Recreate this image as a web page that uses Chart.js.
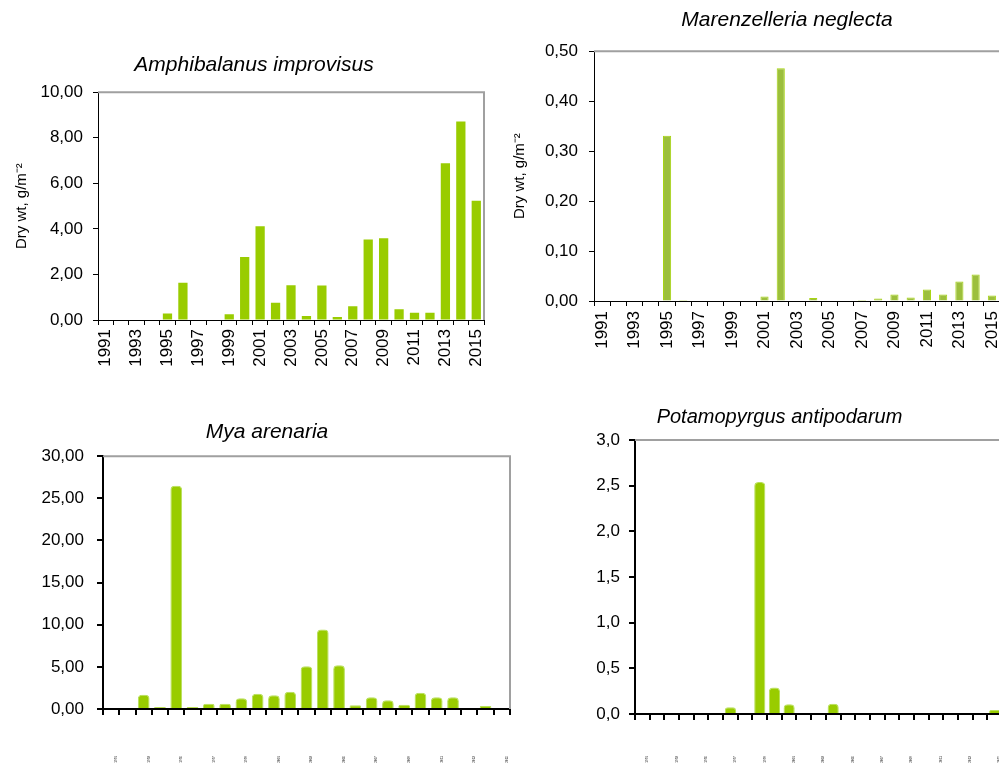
<!DOCTYPE html>
<html>
<head>
<meta charset="utf-8">
<script src="https://cdn.jsdelivr.net/npm/chart.js@4.4.1/dist/chart.umd.min.js"></script>
<style>
    html, body { margin: 0; padding: 0; background: #fff; overflow: hidden; width: 999px; height: 767px; }
    canvas { position: absolute; }
</style>
</head>
<body>
<canvas id="graficoAmphibalanus" width="508" height="350" style="left:0px; top:30px"></canvas>
<canvas id="graficoMarenzelleria" width="574" height="380" style="left:500px; top:0px"></canvas>
<canvas id="graficoMya" width="534" height="377" style="left:0px; top:390px"></canvas>
<canvas id="graficoPotamopyrgus" width="479" height="377" style="left:540px; top:390px"></canvas>
<script>
// anos (eixo x)
const anos = ['1991', '1992', '1993', '1994', '1995', '1996', '1997', '1998', '1999', '2000',
    '2001', '2002', '2003', '2004', '2005', '2006', '2007', '2008', '2009', '2010',
    '2011', '2012', '2013', '2014', '2015'];

// peso seco, g/m-2
const amphibalanus = [0, 0, 0, 0, 0.29, 1.64, 0, 0, 0.25, 2.77, 4.11, 0.76, 1.52, 0.18, 1.51, 0.13, 0.60, 3.53, 3.59, 0.47, 0.32, 0.32, 6.88, 8.71, 5.23];
const marenzelleria = [0, 0, 0, 0, 0.331, 0.002, 0, 0, 0, 0, 0.009, 0.466, 0, 0.006, 0, 0, 0.002, 0.005, 0.013, 0.007, 0.023, 0.013, 0.039, 0.053, 0.011];
const mya = [0, 0, 1.70, 0.24, 26.5, 0.24, 0.63, 0.63, 1.27, 1.82, 1.62, 2.06, 5.07, 9.42, 5.18, 0.44, 1.39, 1.03, 0.51, 1.94, 1.39, 1.39, 0, 0.36, 0];
const potamopyrgus = [0, 0, 0, 0, 0, 0, 0.073, 0, 2.54, 0.29, 0.106, 0, 0, 0.113, 0, 0, 0, 0, 0, 0, 0, 0, 0, 0, 0.044];

// escalas do eixo y: [max, passo, casas decimais]
const escalaAmphibalanus = [10, 2, 2];
const escalaMarenzelleria = [0.5, 0.1, 2];
const escalaMya = [30, 5, 2];
const escalaPotamopyrgus = [3, 0.5, 1];

const tituloY = 'Dry wt, g/m⁻²';

Chart.defaults.font.family = "'Liberation Sans', Arial, sans-serif";
Chart.defaults.color = '#000';

// linha cinza em cima e à direita da area do grafico
const moldura = {
    id: 'moldura',
    afterDraw(chart) {
        const a = chart.chartArea;
        const c = chart.ctx;
        c.save();
        c.strokeStyle = '#a0a0a0';
        c.lineWidth = 2;
        c.beginPath();
        c.moveTo(a.left, a.top);
        c.lineTo(a.right, a.top);
        c.lineTo(a.right, a.bottom);
        c.stroke();
        c.restore();
    }
};

function criarGrafico(id, cfg) {
    return new Chart(document.getElementById(id), {
        type: 'bar',
        data: {
            labels: anos,
            datasets: [{
                data: cfg.dados,
                backgroundColor: cfg.cor,
                borderColor: cfg.borda || cfg.cor,
                borderWidth: cfg.bordaLargura || 0,
                borderRadius: cfg.raio || 0,
                borderSkipped: 'bottom',
                barPercentage: cfg.barra,
                categoryPercentage: 1
            }]
        },
        options: {
            responsive: false,
            animation: false,
            events: [],
            layout: { padding: 0 },
            plugins: {
                legend: { display: false },
                tooltip: { enabled: false },
                title: {
                    display: true,
                    text: cfg.titulo,
                    color: '#000',
                    font: { size: cfg.tituloTam, style: 'italic', weight: 'normal' },
                    padding: { top: cfg.tituloTopo, bottom: cfg.tituloBaixo }
                }
            },
            scales: {
                x: {
                    grid: { display: true, drawOnChartArea: false, tickLength: cfg.tick, color: '#000', lineWidth: cfg.eixo, offset: true },
                    border: { display: true, color: '#000', width: cfg.eixo },
                    ticks: {
                        autoSkip: false, minRotation: 90, maxRotation: 90,
                        padding: cfg.xPad, labelOffset: cfg.xDesloc || 0,
                        color: '#000', font: { size: cfg.xFonte },
                        callback: (v, i) => i % 2 === 0 ? anos[i] : ''
                    },
                    afterFit: s => {
                        s.height = cfg.baixo;
                        // nao deixar o padding dos rotulos empurrar a area
                        s.paddingLeft = 0;
                        s.paddingRight = 0;
                    }
                },
                y: {
                    min: 0,
                    max: cfg.escala[0],
                    ticks: {
                        stepSize: cfg.escala[1], padding: cfg.yPad,
                        color: '#000', font: { size: 17 },
                        callback: v => v.toFixed(cfg.escala[2]).replace('.', ',')
                    },
                    grid: { display: true, drawOnChartArea: false, tickLength: cfg.tick, color: '#000', lineWidth: cfg.eixo },
                    border: { display: true, color: '#000', width: cfg.eixo },
                    title: {
                        display: !!cfg.yTitulo,
                        text: cfg.yTitulo || '',
                        color: '#000',
                        font: { size: 15 },
                        padding: { top: cfg.yTituloPad || 0, bottom: 0 }
                    },
                    afterFit: s => { s.width = cfg.esquerda; }
                },
                // so para reservar espaço à direita
                espaco: {
                    type: 'linear', position: 'right', display: true,
                    grid: { display: false }, ticks: { display: false }, border: { display: false },
                    afterFit: s => { s.width = cfg.direita; }
                }
            }
        },
        plugins: [moldura]
    });
}

criarGrafico('graficoAmphibalanus', {
    dados: amphibalanus, escala: escalaAmphibalanus, cor: '#99cc00', barra: 0.6,
    titulo: 'Amphibalanus improvisus', tituloTam: 21, tituloTopo: 23, tituloBaixo: 14,
    yTitulo: tituloY, yTituloPad: 13,
    esquerda: 98, direita: 24, baixo: 60,
    tick: 5, eixo: 1, xPad: 4, yPad: 10, xFonte: 17
});

criarGrafico('graficoMarenzelleria', {
    dados: marenzelleria, escala: escalaMarenzelleria, cor: '#9cbf3c', borda: '#a6d40f', bordaLargura: 1, barra: 0.5,
    titulo: 'Marenzelleria neglecta', tituloTam: 21, tituloTopo: 8, tituloBaixo: 18,
    yTitulo: tituloY, yTituloPad: 11,
    esquerda: 94, direita: 74, baixo: 79,
    tick: 5, eixo: 1, xPad: 5, yPad: 11, xFonte: 17
});

criarGrafico('graficoMya', {
    dados: mya, escala: escalaMya, cor: '#99cc00', borda: '#b8e05a', bordaLargura: 1,
    raio: { topLeft: 4, topRight: 4 }, barra: 0.72,
    titulo: 'Mya arenaria', tituloTam: 21, tituloTopo: 30, tituloBaixo: 11,
    esquerda: 103, direita: 24, baixo: 58,
    tick: 6, eixo: 2, xPad: 41, xDesloc: 5, yPad: 13, xFonte: 3
});

criarGrafico('graficoPotamopyrgus', {
    dados: potamopyrgus, escala: escalaPotamopyrgus, cor: '#99cc00', borda: '#b8e05a', bordaLargura: 1,
    raio: { topLeft: 4, topRight: 4 }, barra: 0.76,
    titulo: 'Potamopyrgus antipodarum', tituloTam: 20, tituloTopo: 15, tituloBaixo: 11,
    esquerda: 95, direita: 17, baixo: 53,
    tick: 6, eixo: 2, xPad: 36, xDesloc: 5, yPad: 9, xFonte: 3
});
</script>
</body>
</html>
